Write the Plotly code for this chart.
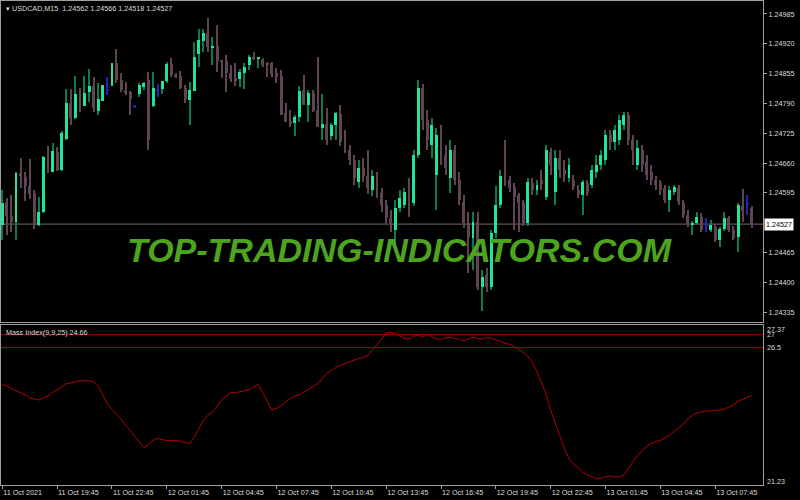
import plotly.graph_objects as go

# ---------------- data ----------------
opens = [1.24525, 1.24576, 1.24545, 1.24531, 1.24639, 1.24630, 1.24609, 1.24595, 1.24524, 1.24554,
         1.24674, 1.24641, 1.24685, 1.24645, 1.24712, 1.24792, 1.24758, 1.24811, 1.24785, 1.24816,
         1.24827, 1.24774, 1.24796, 1.24819, 1.24829, 1.24878, 1.24841, 1.24819, 1.24816, 1.24783,
         1.24811, 1.24825, 1.24841, 1.24784, 1.24819, 1.24821, 1.24839, 1.24876, 1.24852, 1.24850,
         1.24823, 1.24798, 1.24818, 1.24898, 1.24927, 1.24943, 1.24911, 1.24915, 1.24883, 1.24883,
         1.24857, 1.24845, 1.24843, 1.24856, 1.24874, 1.24892, 1.24888, 1.24885, 1.24878, 1.24878,
         1.24856, 1.24850, 1.24769, 1.24752, 1.24747, 1.24760, 1.24819, 1.24787, 1.24812, 1.24776,
         1.24736, 1.24745, 1.24718, 1.24743, 1.24767, 1.24706, 1.24689, 1.24667, 1.24619, 1.24649,
         1.24632, 1.24601, 1.24632, 1.24595, 1.24569, 1.24540, 1.24514, 1.24562, 1.24569, 1.24601,
         1.24573, 1.24678, 1.24824, 1.24754, 1.24699, 1.24634, 1.24721, 1.24678, 1.24627, 1.24689,
         1.24623, 1.24576, 1.24529, 1.24497, 1.24531, 1.24390, 1.24416, 1.24390, 1.24508, 1.24569,
         1.24632, 1.24623, 1.24608, 1.24590, 1.24573, 1.24529, 1.24617, 1.24601, 1.24623, 1.24586,
         1.24684, 1.24597, 1.24671, 1.24645, 1.24627, 1.24623, 1.24601, 1.24590, 1.24617, 1.24612,
         1.24641, 1.24656, 1.24667, 1.24721, 1.24706, 1.24710, 1.24743, 1.24765, 1.24710, 1.24656,
         1.24689, 1.24662, 1.24641, 1.24623, 1.24617, 1.24606, 1.24580, 1.24597, 1.24606, 1.24573,
         1.24547, 1.24527, 1.24530, 1.24543, 1.24525, 1.24514, 1.24521, 1.24492, 1.24516, 1.24540,
         1.24514, 1.24499, 1.24566, 1.24569, 1.24562]
highs = [1.24601, 1.24584, 1.24590, 1.24641, 1.24671, 1.24641, 1.24669, 1.24601, 1.24587, 1.24675,
         1.24697, 1.24704, 1.24696, 1.24730, 1.24822, 1.24822, 1.24850, 1.24824, 1.24850, 1.24865,
         1.24848, 1.24835, 1.24831, 1.24848, 1.24879, 1.24909, 1.24857, 1.24837, 1.24817, 1.24787,
         1.24835, 1.24837, 1.24859, 1.24858, 1.24832, 1.24840, 1.24880, 1.24889, 1.24856, 1.24861,
         1.24830, 1.24837, 1.24924, 1.24952, 1.24952, 1.24976, 1.24935, 1.24960, 1.24884, 1.24896,
         1.24874, 1.24878, 1.24864, 1.24879, 1.24896, 1.24903, 1.24892, 1.24888, 1.24881, 1.24881,
         1.24867, 1.24863, 1.24792, 1.24776, 1.24765, 1.24828, 1.24852, 1.24819, 1.24819, 1.24892,
         1.24811, 1.24779, 1.24748, 1.24772, 1.24787, 1.24732, 1.24699, 1.24678, 1.24667, 1.24671,
         1.24689, 1.24645, 1.24641, 1.24606, 1.24580, 1.24558, 1.24580, 1.24601, 1.24606, 1.24627,
         1.24689, 1.24841, 1.24832, 1.24776, 1.24758, 1.24736, 1.24743, 1.24699, 1.24710, 1.24699,
         1.24641, 1.24590, 1.24553, 1.24553, 1.24553, 1.24427, 1.24431, 1.24514, 1.24609, 1.24645,
         1.24710, 1.24632, 1.24617, 1.24595, 1.24580, 1.24627, 1.24627, 1.24623, 1.24645, 1.24699,
         1.24693, 1.24689, 1.24689, 1.24667, 1.24671, 1.24634, 1.24612, 1.24623, 1.24623, 1.24656,
         1.24678, 1.24689, 1.24732, 1.24732, 1.24743, 1.24765, 1.24771, 1.24771, 1.24721, 1.24710,
         1.24699, 1.24678, 1.24656, 1.24632, 1.24623, 1.24612, 1.24610, 1.24612, 1.24612, 1.24580,
         1.24558, 1.24534, 1.24553, 1.24551, 1.24540, 1.24536, 1.24527, 1.24521, 1.24554, 1.24545,
         1.24523, 1.24573, 1.24603, 1.24590, 1.24566]
lows = [1.24492, 1.24503, 1.24510, 1.24492, 1.24606, 1.24577, 1.24582, 1.24516, 1.24523, 1.24551,
        1.24638, 1.24640, 1.24643, 1.24643, 1.24711, 1.24743, 1.24757, 1.24771, 1.24784, 1.24794,
        1.24772, 1.24765, 1.24795, 1.24808, 1.24828, 1.24835, 1.24816, 1.24808, 1.24765, 1.24780,
        1.24803, 1.24819, 1.24689, 1.24783, 1.24804, 1.24811, 1.24835, 1.24848, 1.24845, 1.24821,
        1.24792, 1.24743, 1.24817, 1.24869, 1.24903, 1.24903, 1.24874, 1.24859, 1.24845, 1.24816,
        1.24837, 1.24828, 1.24825, 1.24821, 1.24863, 1.24885, 1.24867, 1.24870, 1.24848, 1.24847,
        1.24834, 1.24764, 1.24749, 1.24738, 1.24718, 1.24750, 1.24786, 1.24750, 1.24772, 1.24738,
        1.24710, 1.24699, 1.24710, 1.24710, 1.24697, 1.24682, 1.24656, 1.24612, 1.24606, 1.24619,
        1.24593, 1.24588, 1.24584, 1.24553, 1.24527, 1.24510, 1.24481, 1.24553, 1.24562, 1.24543,
        1.24566, 1.24671, 1.24732, 1.24689, 1.24671, 1.24558, 1.24656, 1.24634, 1.24595, 1.24612,
        1.24569, 1.24518, 1.24420, 1.24427, 1.24383, 1.24338, 1.24379, 1.24383, 1.24497, 1.24562,
        1.24610, 1.24597, 1.24514, 1.24510, 1.24523, 1.24523, 1.24590, 1.24590, 1.24601, 1.24580,
        1.24634, 1.24569, 1.24627, 1.24619, 1.24619, 1.24601, 1.24584, 1.24547, 1.24588, 1.24606,
        1.24627, 1.24645, 1.24656, 1.24689, 1.24689, 1.24699, 1.24732, 1.24699, 1.24656, 1.24645,
        1.24641, 1.24623, 1.24612, 1.24601, 1.24590, 1.24573, 1.24553, 1.24590, 1.24569, 1.24540,
        1.24521, 1.24503, 1.24527, 1.24510, 1.24510, 1.24510, 1.24488, 1.24478, 1.24512, 1.24510,
        1.24492, 1.24467, 1.24532, 1.24547, 1.24518]
closes = [1.24574, 1.24545, 1.24532, 1.24638, 1.24632, 1.24609, 1.24593, 1.24525, 1.24554, 1.24673,
          1.24639, 1.24686, 1.24645, 1.24726, 1.24792, 1.24758, 1.24811, 1.24787, 1.24813, 1.24827,
          1.24780, 1.24800, 1.24830, 1.24819, 1.24878, 1.24841, 1.24819, 1.24812, 1.24799, 1.24783,
          1.24830, 1.24834, 1.24710, 1.24824, 1.24819, 1.24839, 1.24876, 1.24852, 1.24848, 1.24823,
          1.24799, 1.24819, 1.24892, 1.24928, 1.24943, 1.24912, 1.24914, 1.24883, 1.24881, 1.24856,
          1.24843, 1.24840, 1.24859, 1.24870, 1.24891, 1.24886, 1.24890, 1.24874, 1.24875, 1.24854,
          1.24848, 1.24765, 1.24750, 1.24745, 1.24760, 1.24817, 1.24787, 1.24813, 1.24774, 1.24739,
          1.24745, 1.24710, 1.24743, 1.24769, 1.24706, 1.24689, 1.24667, 1.24627, 1.24649, 1.24632,
          1.24606, 1.24632, 1.24595, 1.24569, 1.24540, 1.24529, 1.24562, 1.24584, 1.24598, 1.24576,
          1.24678, 1.24824, 1.24754, 1.24710, 1.24743, 1.24721, 1.24678, 1.24649, 1.24689, 1.24623,
          1.24580, 1.24529, 1.24499, 1.24531, 1.24390, 1.24412, 1.24390, 1.24508, 1.24569, 1.24632,
          1.24619, 1.24606, 1.24586, 1.24573, 1.24529, 1.24619, 1.24601, 1.24612, 1.24614, 1.24689,
          1.24656, 1.24671, 1.24645, 1.24634, 1.24656, 1.24608, 1.24590, 1.24619, 1.24595, 1.24645,
          1.24656, 1.24678, 1.24721, 1.24706, 1.24732, 1.24754, 1.24765, 1.24710, 1.24689, 1.24693,
          1.24656, 1.24634, 1.24623, 1.24612, 1.24601, 1.24580, 1.24601, 1.24608, 1.24575, 1.24547,
          1.24525, 1.24530, 1.24543, 1.24514, 1.24525, 1.24524, 1.24492, 1.24516, 1.24540, 1.24514,
          1.24497, 1.24569, 1.24556, 1.24569, 1.24527]
mass_index = [25.08, 25.04, 24.92, 24.84, 24.77, 24.69, 24.57, 24.53, 24.49, 24.57,
              24.65, 24.77, 24.88, 25.00, 25.12, 25.15, 25.19, 25.23, 25.23, 25.23,
              25.19, 25.04, 24.69, 24.34, 24.14, 23.95, 23.76, 23.52, 23.33, 23.09,
              22.90, 22.67, 22.78, 22.94, 23.02, 22.98, 22.94, 22.94, 22.94, 22.90,
              22.86, 22.82, 23.06, 23.41, 23.72, 23.91, 24.03, 24.26, 24.49, 24.65,
              24.77, 24.77, 24.80, 24.84, 24.88, 25.00, 25.08, 24.77, 24.42, 24.10,
              24.18, 24.26, 24.42, 24.53, 24.65, 24.69, 24.80, 24.88, 25.00, 25.12,
              25.31, 25.50, 25.62, 25.74, 25.82, 25.89, 25.97, 26.05, 26.09, 26.13,
              26.20, 26.40, 26.63, 26.86, 27.06, 27.10, 27.02, 26.94, 26.86, 26.83,
              26.94, 26.98, 26.90, 27.02, 26.94, 26.83, 26.83, 26.86, 26.90, 26.86,
              26.83, 26.75, 26.83, 26.90, 26.86, 26.83, 26.90, 26.86, 26.79, 26.75,
              26.67, 26.63, 26.55, 26.44, 26.32, 26.17, 25.93, 25.58, 25.15, 24.73,
              24.10, 23.60, 23.09, 22.63, 22.24, 22.04, 21.89, 21.73, 21.62, 21.54,
              21.46, 21.50, 21.54, 21.58, 21.54, 21.54, 21.62, 21.85, 22.12, 22.36,
              22.55, 22.71, 22.82, 22.90, 22.94, 23.02, 23.13, 23.29, 23.41, 23.56,
              23.76, 23.91, 23.99, 24.03, 24.07, 24.07, 24.10, 24.10, 24.14, 24.22,
              24.30, 24.45, 24.53, 24.61, 24.66]
time_tick_bars = [0, 12, 24, 36, 48, 60, 72, 84, 96, 108, 120, 132, 144, 156]
time_tick_labels = ["11 Oct 2021", "11 Oct 19:45", "11 Oct 22:45", "12 Oct 01:45", "12 Oct 04:45",
                    "12 Oct 07:45", "12 Oct 10:45", "12 Oct 13:45", "12 Oct 16:45", "12 Oct 19:45",
                    "12 Oct 22:45", "13 Oct 01:45", "13 Oct 04:45", "13 Oct 07:45"]
price_ticks = [1.24335, 1.24400, 1.24465, 1.24595, 1.24660, 1.24725, 1.24790, 1.24855, 1.24920, 1.24985]
mi_levels = [27.0, 26.5]
mi_labels = [(27.37, "27.37", -5), (27.0, "27", 0), (26.5, "26.5", 0), (21.23, "21.23", 3)]
last_price = 1.24527

# ---------------- styling ----------------
BULL = "#1de59a"
BULL_WICK = "#0e7a4f"
BEAR = "#5f4456"
DOJI = "#2424b0"
FRAME = "#a0a0a0"
TXT = "#dedede"
FONT = "Liberation Sans"
FS = 7.2

n = len(opens)
idx = list(range(n))
body_col, wick_col, base, height = [], [], [], []
for o, c in zip(opens, closes):
    if c > o:
        body_col.append(BULL); wick_col.append(BULL_WICK)
    elif c < o:
        body_col.append(BEAR); wick_col.append(BEAR)
    else:
        body_col.append(DOJI); wick_col.append(DOJI)
    base.append(min(o, c))
    height.append(max(abs(c - o), 0.00002))
wick_h = [h - l for h, l in zip(highs, lows)]

fig = go.Figure()
fig.add_trace(go.Bar(x=idx, base=lows, y=wick_h, width=0.24, marker=dict(color=wick_col, line=dict(width=0)),
                     xaxis="x", yaxis="y", hoverinfo="skip"))
fig.add_trace(go.Bar(x=idx, base=base, y=height, width=0.64, marker=dict(color=body_col, line=dict(width=0)),
                     xaxis="x", yaxis="y", hoverinfo="skip"))
fig.add_trace(go.Scatter(x=idx, y=mass_index, mode="lines", line=dict(color="#b40000", width=1),
                         xaxis="x2", yaxis="y2", hoverinfo="skip"))

xr = [-0.28, 166.46]
axis_common = dict(showgrid=False, zeroline=False, showline=True, mirror=True, linecolor=FRAME, linewidth=1,
                   automargin=False)

fig.update_layout(
    width=800, height=500,
    margin=dict(l=1, r=37, t=1, b=15, autoexpand=False),
    paper_bgcolor="black", plot_bgcolor="black",
    showlegend=False, barmode="overlay", bargap=0,
    xaxis=dict(domain=[0, 1], anchor="y", range=xr, showticklabels=False, ticks="", **axis_common),
    yaxis=dict(domain=[0.3368, 1], anchor="x", range=[1.243136, 1.250133], side="right",
               tickvals=price_ticks, ticktext=[f"{v:.5f}" for v in price_ticks],
               ticks="outside", ticklen=3, tickcolor=FRAME,
               tickfont=dict(family=FONT, size=FS, color=TXT), **axis_common),
    xaxis2=dict(domain=[0, 1], anchor="y2", range=xr, tickvals=time_tick_bars, ticktext=time_tick_labels,
                ticks="outside", ticklen=3, tickcolor=FRAME, ticklabelposition="outside right",
                tickfont=dict(family=FONT, size=FS, color=TXT), **axis_common),
    yaxis2=dict(domain=[0, 0.3306], anchor="x2", range=[21.23, 27.37], showticklabels=False, ticks="",
                side="right", **axis_common),
)

# current price line
fig.add_shape(type="line", xref="paper", x0=0, x1=1, yref="y", y0=last_price, y1=last_price,
              line=dict(color="#7d6574", width=1), layer="below")
# mass index levels
for lv in mi_levels:
    fig.add_shape(type="line", xref="paper", x0=0, x1=1, yref="y2", y0=lv, y1=lv,
                  line=dict(color="#8a0000", width=1.2))

ann = []
ann.append(dict(xref="paper", yref="paper", x=0, y=1, xanchor="left", yanchor="top", xshift=3, yshift=-1,
                text="\u25be\u00a0USDCAD,M15\u00a0\u00a01.24562 1.24566 1.24518 1.24527",
                showarrow=False, font=dict(family=FONT, size=FS, color=TXT)))
ann.append(dict(xref="paper", yref="paper", x=0, y=0.3306, xanchor="left", yanchor="top", xshift=3, yshift=-1,
                text="Mass Index(9,9,25) 24.66", showarrow=False, font=dict(family=FONT, size=FS, color=TXT)))
ann.append(dict(xref="paper", yref="y", x=1, y=last_price, xanchor="left", yanchor="middle", xshift=1,
                text=f"{last_price:.5f}", showarrow=False, bgcolor="white", borderpad=1,
                font=dict(family=FONT, size=FS, color="black")))
for v, t, ys in mi_labels:
    ann.append(dict(xref="paper", yref="y2", x=1, y=v, xanchor="left", yanchor="middle", xshift=2, yshift=ys,
                    text=t, showarrow=False, font=dict(family=FONT, size=FS, color=TXT)))
ann.append(dict(xref="paper", yref="paper", x=0.5236, y=0.4855, xanchor="center", yanchor="middle",
                text="<b><i>TOP-TRADING-INDICATORS.COM</i></b>", showarrow=False,
                font=dict(family=FONT, size=34, color="#4ea31f")))
fig.update_layout(annotations=ann)

fig.write_html("out.html", config={"displayModeBar": False},
               post_script="document.body.style.margin='0';document.body.style.overflow='hidden';")
